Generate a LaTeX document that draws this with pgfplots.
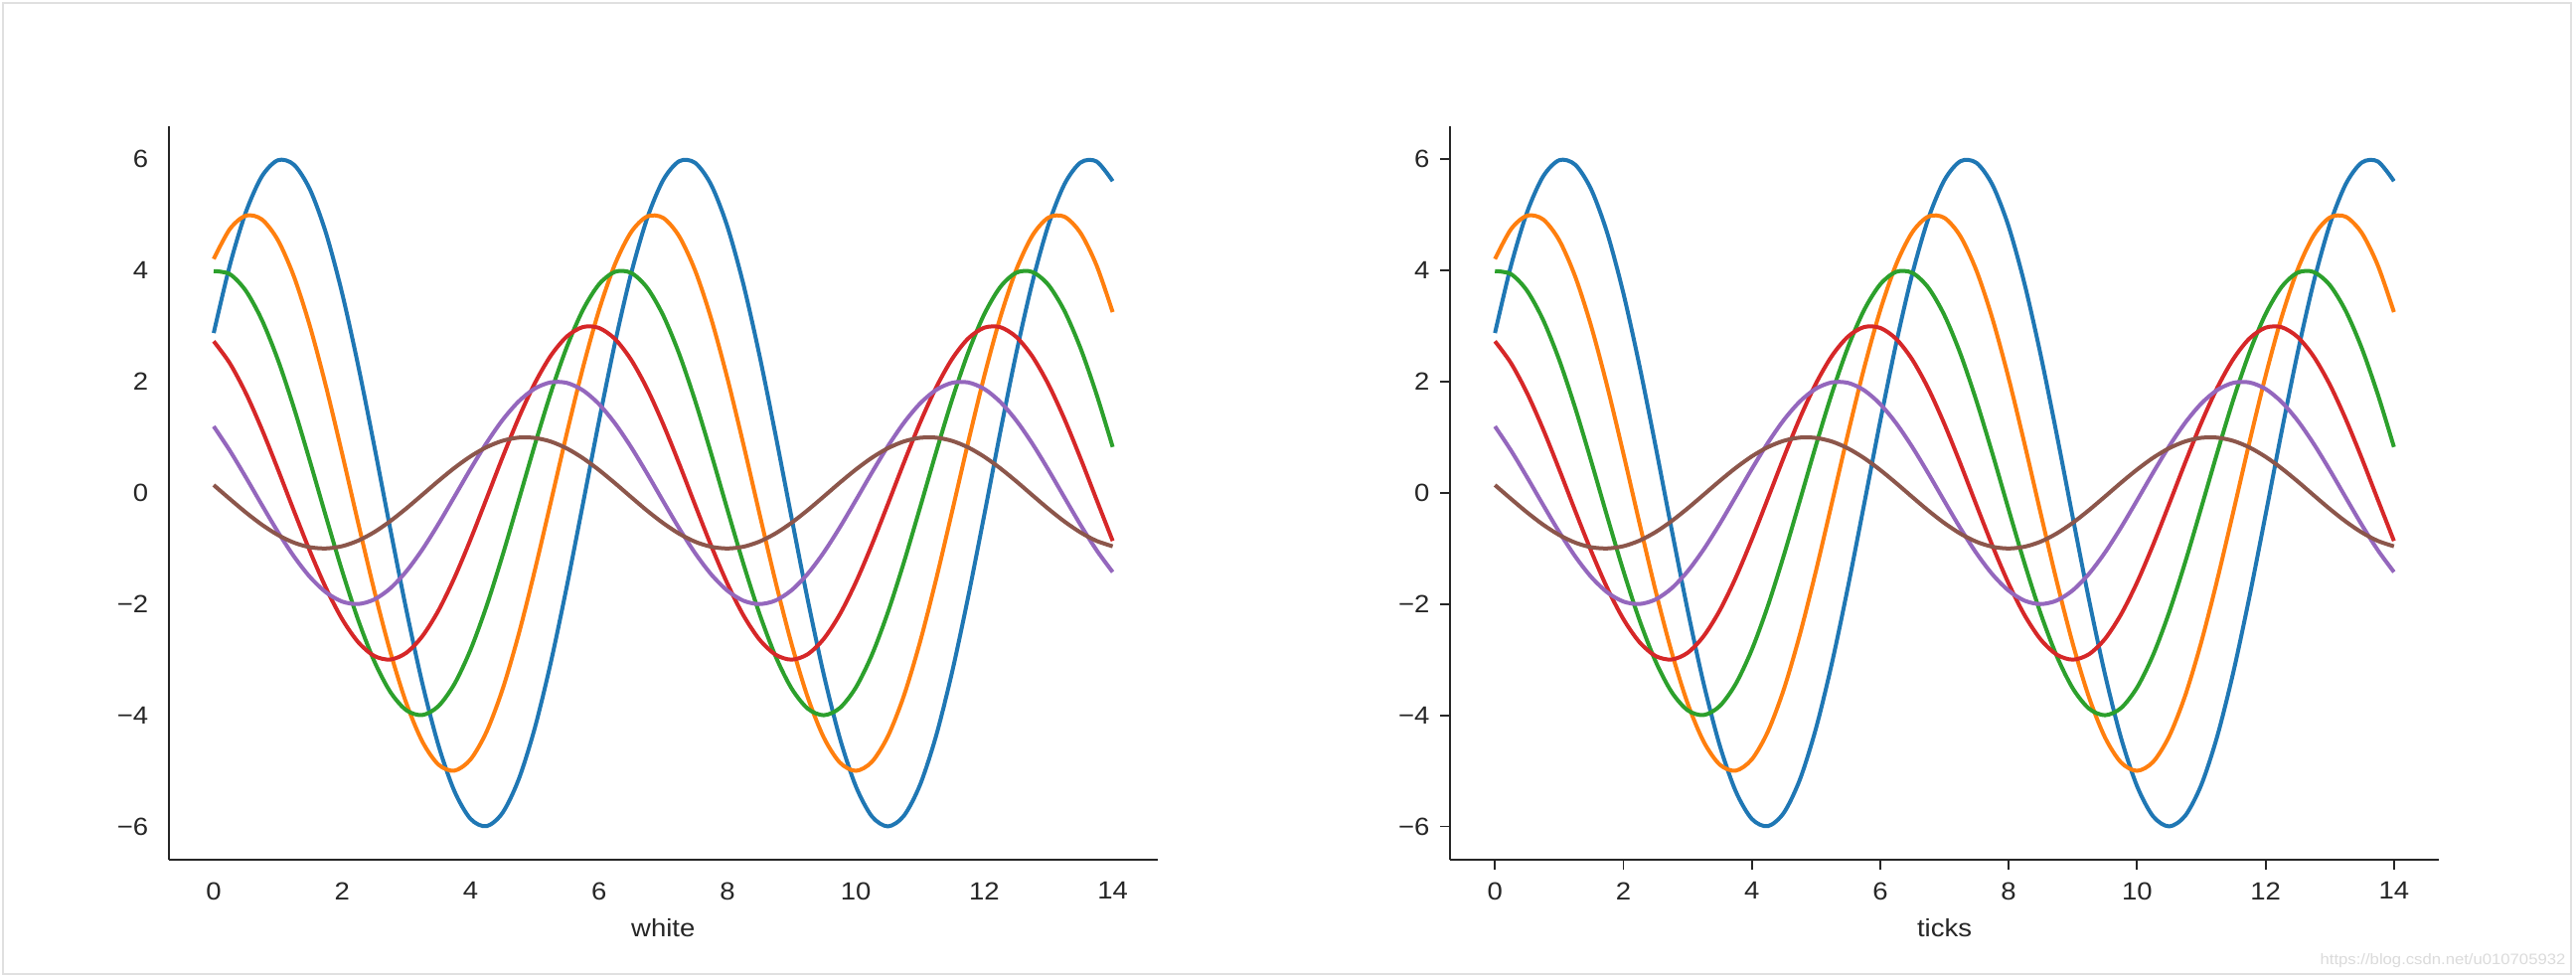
\documentclass[border=0pt]{standalone}
\usepackage{fontspec}
\setmainfont{Liberation Sans}[FakeStretch=1.1]
\usepackage{pgfplots}
\usepackage{pgfplotstable}
\pgfplotsset{compat=1.18}
\definecolor{c0}{HTML}{1F77B4}
\definecolor{c1}{HTML}{FF7F0E}
\definecolor{c2}{HTML}{2CA02C}
\definecolor{c3}{HTML}{D62728}
\definecolor{c4}{HTML}{9467BD}
\definecolor{c5}{HTML}{8C564B}
\definecolor{txt}{HTML}{262626}
\pgfplotstableread{
x a b c d e f
0 2.876 4.208 3.990 2.728 1.197 0.141
0.25 4.090 4.745 3.936 2.334 0.763 -0.108
0.5 5.049 4.988 3.637 1.796 0.282 -0.351
0.75 5.694 4.920 3.112 1.145 -0.216 -0.572
1 5.985 4.547 2.394 0.423 -0.702 -0.757
1.25 5.904 3.891 1.527 -0.325 -1.143 -0.895
1.5 5.456 2.993 0.564 -1.052 -1.514 -0.978
1.75 4.669 1.909 -0.433 -1.715 -1.790 -0.999
2 3.591 0.706 -1.403 -2.270 -1.955 -0.959
2.25 2.290 -0.541 -2.286 -2.685 -1.999 -0.859
2.5 0.847 -1.754 -3.027 -2.933 -1.918 -0.706
2.75 -0.649 -2.858 -3.580 -2.998 -1.718 -0.508
3 -2.105 -3.784 -3.910 -2.877 -1.411 -0.279
3.25 -3.430 -4.475 -3.997 -2.577 -1.017 -0.033
3.5 -4.541 -4.888 -3.836 -2.117 -0.559 0.215
3.75 -5.370 -4.997 -3.436 -1.525 -0.066 0.450
4 -5.865 -4.795 -2.822 -0.838 0.430 0.657
4.25 -5.996 -4.295 -2.033 -0.100 0.900 0.823
4.5 -5.753 -3.528 -1.118 0.645 1.314 0.938
4.75 -5.153 -2.542 -0.133 1.350 1.646 0.995
5 -4.233 -1.397 0.860 1.971 1.876 0.989
5.25 -3.050 -0.166 1.800 2.469 1.989 0.923
5.5 -1.676 1.076 2.628 2.814 1.979 0.799
5.75 -0.199 2.250 3.292 2.984 1.845 0.625
6 1.291 3.285 3.752 2.968 1.597 0.412
6.25 2.700 4.116 3.978 2.768 1.250 0.174
6.5 3.942 4.690 3.958 2.396 0.824 -0.075
6.75 4.939 4.973 3.691 1.874 0.348 -0.320
7 5.628 4.947 3.194 1.236 -0.150 -0.544
7.25 5.968 4.614 2.499 0.522 -0.639 -0.735
7.5 5.936 3.993 1.648 -0.226 -1.088 -0.880
7.75 5.536 3.124 0.696 -0.959 -1.469 -0.970
8 4.791 2.061 -0.301 -1.632 -1.759 -1.000
8.25 3.749 0.870 -1.278 -2.204 -1.940 -0.968
8.5 2.473 -0.376 -2.176 -2.639 -2.000 -0.876
8.75 1.043 -1.598 -2.939 -2.910 -1.936 -0.729
9 -0.451 -2.720 -3.519 -3.000 -1.751 -0.537
9.25 -1.917 -3.674 -3.880 -2.903 -1.457 -0.311
9.5 -3.264 -4.399 -4.000 -2.627 -1.073 -0.066
9.75 -4.408 -4.850 -3.871 -2.186 -0.622 0.183
10 -5.278 -5.000 -3.502 -1.610 -0.133 0.420
10.25 -5.820 -4.839 -2.915 -0.933 0.365 0.632
10.5 -6.000 -4.378 -2.146 -0.199 0.840 0.804
10.75 -5.807 -3.644 -1.244 0.548 1.263 0.926
11 -5.253 -2.683 -0.265 1.261 1.608 0.991
11.25 -4.372 -1.556 0.730 1.895 1.852 0.994
11.5 -3.220 -0.332 1.681 2.411 1.981 0.935
11.75 -1.867 0.913 2.526 2.778 1.987 0.818
12 -0.398 2.101 3.215 2.972 1.870 0.650
12.25 1.096 3.158 3.704 2.981 1.636 0.442
12.5 2.521 4.019 3.962 2.805 1.301 0.207
12.75 3.790 4.630 3.974 2.454 0.884 -0.042
13 4.823 4.953 3.740 1.951 0.413 -0.288
13.25 5.556 4.968 3.272 1.326 -0.084 -0.516
13.5 5.944 4.675 2.601 0.620 -0.576 -0.712
13.75 5.962 4.090 1.768 -0.126 -1.032 -0.864
14 5.609 3.252 0.826 -0.864 -1.424 -0.961
}\sindata
\pgfplotsset{
  sinstyle/.style={
    scale only axis, width=298.5pt, height=221.46pt,
    anchor=south west,
    xmin=-0.7, xmax=14.7, ymin=-6.6, ymax=6.6,
    axis x line*=bottom, axis y line*=left,
    axis line style={-, line width=0.55pt, draw=txt},
    xtick={0,2,4,6,8,10,12,14},
    ytick={-6,-4,-2,0,2,4,6},
    yticklabels={−6,−4,−2,0,2,4,6},
    /pgf/number format/assume math mode=true,
    tick label style={font=\fontsize{7.5}{8}\selectfont, text=txt, inner sep=0pt},
    xlabel style={at={(axis description cs:0.5,0)}, anchor=base, yshift=-23.3pt,
      inner sep=0pt, font=\fontsize{7.5}{8}\selectfont, text=txt},
    every axis plot/.append style={line width=1.2pt, line join=round, smooth},
  },
}
\begin{document}
\begin{tikzpicture}[x=1pt,y=1pt]
\path[use as bounding box, fill=white] (0,0) rectangle (777.6,295.2);
\draw[black!12, line width=0.6pt] (0.9,1.2) rectangle (776.2,294.3);
\begin{axis}[sinstyle, at={(50.94pt,35.7pt)}, xlabel={white}, tick style={draw=none},
  xticklabel style={anchor=north, yshift=-6.6pt},
  yticklabel style={anchor=east, xshift=-6pt}]
\addplot[c0] table[x=x,y=a]{\sindata};
\addplot[c1] table[x=x,y=b]{\sindata};
\addplot[c2] table[x=x,y=c]{\sindata};
\addplot[c3] table[x=x,y=d]{\sindata};
\addplot[c4] table[x=x,y=e]{\sindata};
\addplot[c5] table[x=x,y=f]{\sindata};
\end{axis}
\begin{axis}[sinstyle, at={(437.7pt,35.7pt)}, xlabel={ticks}, tick align=outside,
  major tick length=3pt, tick style={draw=txt, line width=0.55pt},
  xticklabel style={anchor=north, yshift=-3.6pt},
  yticklabel style={anchor=east, xshift=-3pt}]
\addplot[c0] table[x=x,y=a]{\sindata};
\addplot[c1] table[x=x,y=b]{\sindata};
\addplot[c2] table[x=x,y=c]{\sindata};
\addplot[c3] table[x=x,y=d]{\sindata};
\addplot[c4] table[x=x,y=e]{\sindata};
\addplot[c5] table[x=x,y=f]{\sindata};
\end{axis}
\node[anchor=base east, text=black!14, font=\fontsize{4.55}{5.5}\selectfont, inner sep=0pt]
  at (774.6,4.0) {https://blog.csdn.net/u010705932};
\end{tikzpicture}
\end{document}
